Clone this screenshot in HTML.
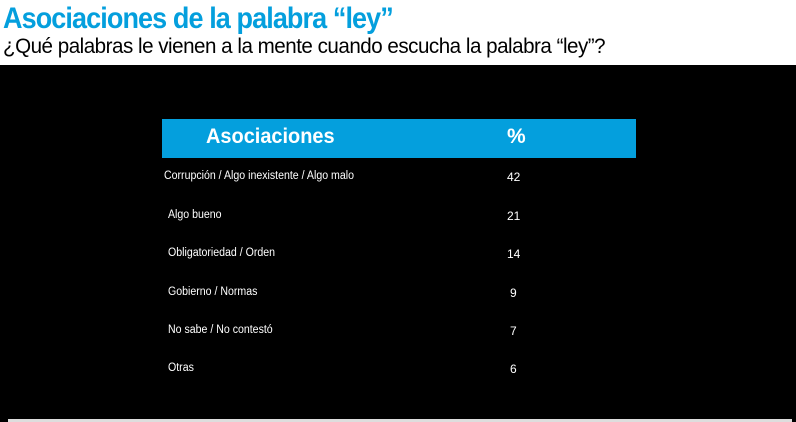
<!DOCTYPE html>
<html><head><meta charset="utf-8"><style>
body{margin:0;width:796px;height:422px;background:#fff;position:relative;overflow:hidden;font-family:"Liberation Sans",sans-serif}
.t{position:absolute;white-space:nowrap;transform-origin:0 0}
#bk{position:absolute;left:0;top:65px;width:796px;height:357px;background:#000}
#bar{position:absolute;left:162px;top:119px;width:474px;height:39px;background:#049fdd}
#ln{position:absolute;left:8px;top:419px;width:784px;height:3px;background:#ddd}
.r{position:absolute;color:#fff;font-size:11.5px;white-space:nowrap;transform:scaleX(.92);transform-origin:0 0}
.n{position:absolute;color:#fff;font-size:12px;left:507px}
</style></head><body>
<div class="t" style="left:3px;top:2px;font-size:30px;font-weight:bold;color:#049fdd;letter-spacing:-1px;transform:scaleX(.9)">Asociaciones de la palabra “ley”</div>
<div class="t" style="left:3px;top:35px;font-size:21px;color:#000;letter-spacing:-.5px;transform:scaleX(.98)">¿Qué palabras le vienen a la mente cuando escucha la palabra “ley”?</div>
<div id="bk"></div>
<div id="bar"></div>
<div class="t" style="left:206px;top:125px;font-size:21px;font-weight:bold;color:#fff;transform:scaleX(.95)">Asociaciones</div>
<div class="t" style="left:507px;top:125px;font-size:21px;font-weight:bold;color:#fff">%</div>
<div class="r" style="left:164px;top:170px">Corrupción / Algo inexistente / Algo malo</div><div class="n" style="top:170px">42</div>
<div class="r" style="left:168px;top:209px">Algo bueno</div><div class="n" style="top:209px">21</div>
<div class="r" style="left:168px;top:247px">Obligatoriedad / Orden</div><div class="n" style="top:247px">14</div>
<div class="r" style="left:168px;top:286px">Gobierno / Normas</div><div class="n" style="top:286px;left:510px">9</div>
<div class="r" style="left:168px;top:324px">No sabe / No contestó</div><div class="n" style="top:324px;left:510px">7</div>
<div class="r" style="left:168px;top:362px">Otras</div><div class="n" style="top:362px;left:510px">6</div>
<div id="ln"></div>
</body></html>
